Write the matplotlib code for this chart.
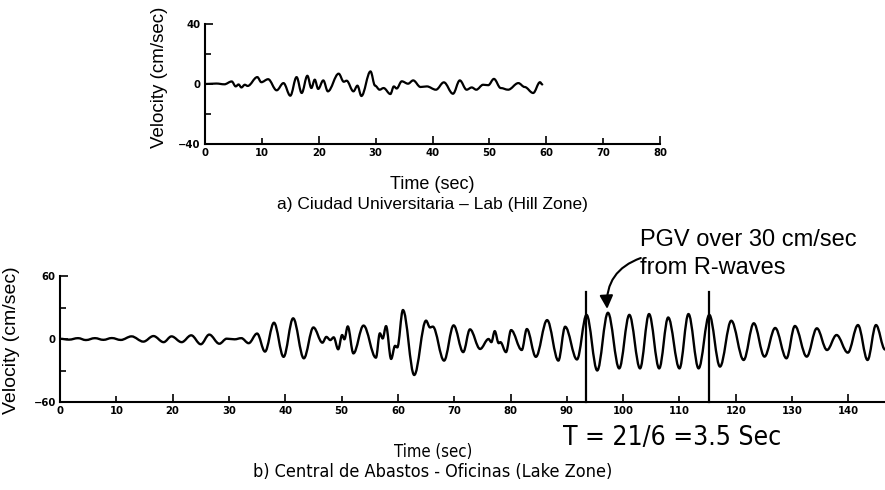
import matplotlib
matplotlib.use("Agg")
import matplotlib.pyplot as plt
from matplotlib.path import Path
from matplotlib.patches import PathPatch
from matplotlib.ticker import MultipleLocator, FormatStrFormatter, NullFormatter

# a) Ciudad Universitaria - Lab (Hill Zone): peaks/troughs
hill_t = [0, 2, 3.4, 4.7, 5.4, 5.9, 6.4, 7.0, 7.5, 9.2, 9.9, 11.1, 12.6, 13.8, 15.0,
          16.1, 17.0, 18.0, 18.7, 19.3, 19.9, 20.8, 21.6, 23.5, 24.4, 24.9, 26.1, 26.8,
          27.5, 29.1, 29.9, 30.7, 31.4, 32.6, 33.2, 33.7, 34.6, 35.7, 36.6, 37.9, 39.0,
          40.6, 42.0, 43.6, 44.8, 46.0, 46.9, 47.7, 48.9, 49.8, 50.8, 52.0, 53.3, 55.1,
          56.2, 57.7, 58.9, 59.3]
hill_v = [0, 0.3, -0.2, 1.7, -1.6, -0.3, -2.3, -0.5, -1.3, 4.6, 1.2, 3.2, -4.2, 0.6, -7.8,
          4.6, -6.0, 5.5, -2.7, 2.9, -3.3, 2.4, -4.9, 6.9, 1.5, 2.2, -4.9, -1.1,
          -8.0, 8.4, -1.1, -3.8, -2.7, -6.7, -1.6, -3.0, 1.8, 0.2, 2.4, -2.0, -1.6,
          -3.8, 1.1, -6.5, 2.4, -3.8, -2.3, -3.8, -0.5, -0.8, 3.4, -2.7, -3.8, 0.6,
          -2.0, -6.0, 1.2, -0.3]

# b) Central de Abastos - Oficinas (Lake Zone)
lake_t = [0, 1.6, 3.2, 4.6, 6.2, 7.7, 9.2, 10.8, 12.7, 14.8, 16.6, 18.4, 19.8, 21.6,
          23.3, 25.0, 26.5, 28.3, 29.6, 31.0, 32.2, 33.5, 35.0, 36.4, 38.0, 39.7, 41.4,
          43.3, 45.0, 46.6, 47.3, 48.0, 48.6, 49.4, 50.1, 50.5, 51.1, 52.1, 53.9, 56.1,
          56.8, 57.3, 57.9, 58.8, 59.5, 59.9, 60.9, 62.9, 65.0, 65.7, 66.2, 68.2, 69.9,
          71.6, 72.8, 74.6, 76.1, 76.6, 77.2, 77.9, 78.2, 79.2, 80.1, 82.0, 82.9, 84.5,
          86.5, 88.5, 89.7, 91.8, 93.5, 95.4, 97.3, 99.3, 101.1, 103.0, 104.6, 106.4,
          108.0, 110.0, 111.6, 113.4, 115.3, 117.2, 119.2, 121.4, 123.2, 125.1, 127.0,
          129.0, 130.5, 132.6, 134.4, 136.2, 137.9, 139.9, 141.7, 143.4, 144.9, 146.5]
lake_v = [0.2, -0.6, 0.8, -1.0, 0.8, -0.8, 0.9, -0.9, 2.5, -2.5, 2.8, -3.0, 2.5, -3.0,
          3.5, -5.0, 4.2, -4.5, 0.3, -0.3, 0.8, -4.0, 5.2, -12.0, 15.5, -17.0, 19.7,
          -18.4, 11.0, -3.5, 2.0, -1.0, 1.6, -9.8, 3.8, -0.3, 12.0, -13.7, 12.8, -17.8,
          5.4, 0.5, 12.3, -19.0, -6.5, -8.0, 27.6, -34.3, 17.5, 11.0, 11.8, -20.6, 13.0,
          -12.5, 9.2, -9.5, 0.0, -3.0, 7.5, -4.0, -3.0, -12.5, 8.5, -10.5, 9.5, -17.0,
          18.0, -20.6, 11.7, -19.5, 23.0, -30.0, 25.0, -28.0, 23.0, -28.0, 23.8, -28.0,
          20.5, -28.0, 23.8, -28.0, 23.0, -26.3, 17.4, -20.0, 15.0, -16.8, 10.5,
          -18.4, 12.4, -16.8, 10.2, -10.5, 3.8, -13.0, 13.3, -20.0, 13.3, -10.0]

period_marks = [93.4, 115.2]

plt.rcParams['font.family'] = 'DejaVu Sans'
plt.rcParams['font.weight'] = 'bold'
plt.rcParams['font.stretch'] = 'condensed'


def smooth(ts, vs, k=0.36):
    # smooth the line between turning points with bezier segments
    verts = [(ts[0], vs[0])]
    codes = [Path.MOVETO]
    for i in range(1, len(ts)):
        dt = ts[i] - ts[i - 1]
        verts += [(ts[i - 1] + k * dt, vs[i - 1]), (ts[i] - k * dt, vs[i]), (ts[i], vs[i])]
        codes += [Path.CURVE4] * 3
    return Path(verts, codes)


def style(ax, xmax, ylim, yminor):
    for s in ['top', 'right']:
        ax.spines[s].set_visible(False)
    for s in ['left', 'bottom']:
        ax.spines[s].set_linewidth(1.5)
    ax.set_xlim(0, xmax)
    ax.set_ylim(-ylim, ylim)
    ax.xaxis.set_major_locator(MultipleLocator(20))
    ax.xaxis.set_minor_locator(MultipleLocator(10))
    ax.xaxis.set_minor_formatter(FormatStrFormatter('%d'))
    ax.set_yticks([-ylim, 0, ylim])
    ax.set_yticks([-yminor, yminor], minor=True)
    ax.yaxis.set_minor_formatter(NullFormatter())
    ax.tick_params(which='both', direction='in', labelsize=8, width=1.2, pad=3)
    ax.tick_params(which='major', length=6)
    ax.tick_params(which='minor', length=4)


arial = ['Liberation Sans', 'DejaVu Sans']

fig = plt.figure(figsize=(8.85, 4.9), dpi=100)

ax1 = fig.add_axes([205 / 885, 1 - 144 / 490, 455 / 885, 120 / 490])
style(ax1, 80, 40, 20)
ax1.add_patch(PathPatch(smooth(hill_t, hill_v), fill=False, lw=1.6, color='black',
                        joinstyle='round', capstyle='round'))

ax2 = fig.add_axes([60 / 885, 1 - 402 / 490, 825 / 885, 126 / 490])
style(ax2, 146.5, 60, 30)
ax2.add_patch(PathPatch(smooth(lake_t, lake_v), fill=False, lw=1.7, color='black',
                        joinstyle='round', capstyle='round'))
for t in period_marks:
    ax2.plot([t, t], [-60, 45], color='black', lw=1.6, clip_on=False)

ax2.annotate('', xy=(97.2, 26), xytext=(103.6, 78), annotation_clip=False,
             arrowprops=dict(arrowstyle='-|>', color='black', lw=1.5, mutation_scale=20,
                             connectionstyle='arc3,rad=0.4'))


def ftext(x, y, s, narrow=False, **kw):
    if narrow:
        # condensed face for the lower panel captions
        return fig.text(x / 885, 1 - y / 490, s, fontweight='normal',
                        fontstretch='condensed', family='DejaVu Sans', **kw)
    return fig.text(x / 885, 1 - y / 490, s, fontweight='normal', fontstretch='normal',
                    family=arial, **kw)


ftext(160, 77, 'Velocity (cm/sec)', rotation=90, ha='center', va='center', fontsize=13.5)
ftext(432, 184, 'Time (sec)', ha='center', va='center', fontsize=13)
ftext(432, 204, 'a) Ciudad Universitaria \u2013 Lab (Hill Zone)', ha='center', va='center',
      fontsize=12.5)

ftext(12, 340, 'Velocity (cm/sec)', rotation=90, ha='center', va='center', fontsize=14)
ftext(640, 240, 'PGV over 30 cm/sec', ha='left', va='center', fontsize=17)
ftext(640, 268, 'from R-waves', ha='left', va='center', fontsize=17)
ftext(563, 438, 'T = 21/6 =3.5 Sec', narrow=True, ha='left', va='center', fontsize=19)
ftext(433, 452, 'Time (sec)', narrow=True, ha='center', va='center', fontsize=12)
ftext(433, 472, 'b) Central de Abastos - Oficinas (Lake Zone)', narrow=True,
      ha='center', va='center', fontsize=13)

fig.savefig('out.png', dpi=100)
